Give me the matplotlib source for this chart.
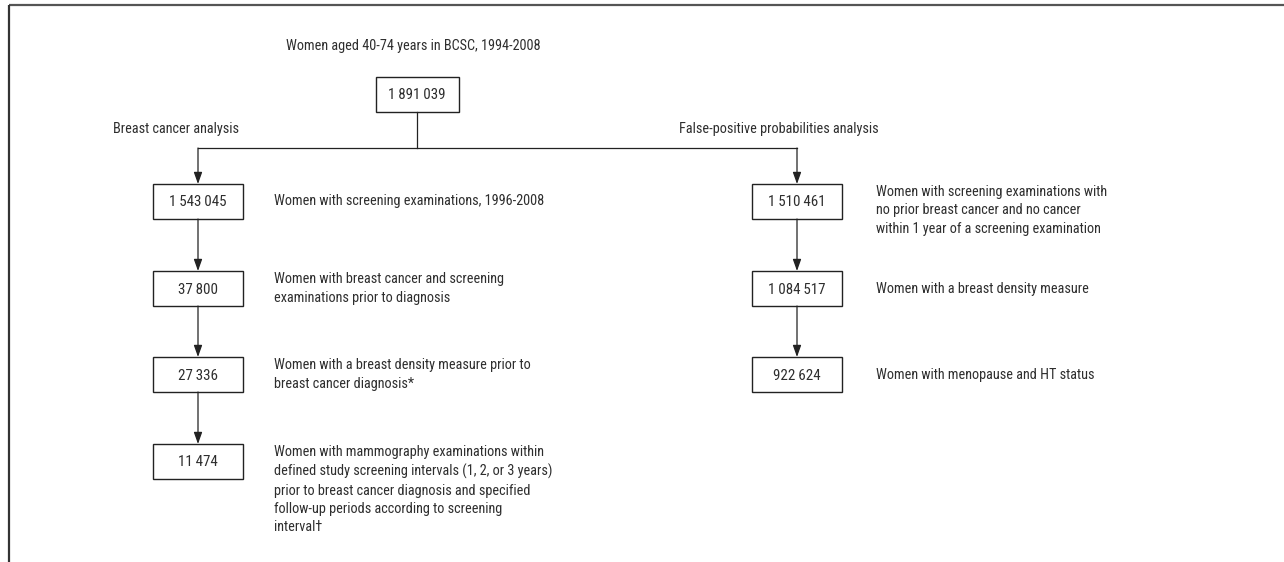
import matplotlib
matplotlib.use("Agg")
import matplotlib.pyplot as plt
from matplotlib.patches import Rectangle

plt.rcParams['font.family'] = ['Roboto Condensed', 'Liberation Sans Narrow', 'DejaVu Sans']

# Flowchart content
top_title = "Women aged 40-74 years in BCSC, 1994-2008"
top_count = 1891039

left_title = "Breast cancer analysis"
left_counts = [1543045, 37800, 27336, 11474]
left_labels = [
    "Women with screening examinations, 1996-2008",
    "Women with breast cancer and screening\nexaminations prior to diagnosis",
    "Women with a breast density measure prior to\nbreast cancer diagnosis*",
    "Women with mammography examinations within\ndefined study screening intervals (1, 2, or 3 years)\n"
    "prior to breast cancer diagnosis and specified\nfollow-up periods according to screening\ninterval\u2020",
]

right_title = "False-positive probabilities analysis"
right_counts = [1510461, 1084517, 922624]
right_labels = [
    "Women with screening examinations with\nno prior breast cancer and no cancer\nwithin 1 year of a screening examination",
    "Women with a breast density measure",
    "Women with menopause and HT status",
]


def fmt(n):
    return f"{n:,}".replace(",", "\u2009")


W, H = 1284, 562
fig = plt.figure(figsize=(W / 100, H / 100), dpi=100)
ax = fig.add_axes([0, 0, 1, 1])
ax.set_xlim(0, W)
ax.set_ylim(H, 0)
ax.axis("off")

line_c = "#222222"
text_c = "#2e2e2e"
fs = 10.3

# frame (top and left edges)
ax.plot([9, W], [5, 5], color="#555555", lw=1.6, solid_capstyle="butt")
ax.plot([9, 9], [5, H], color="#333333", lw=1.6, solid_capstyle="butt")

box_w, box_h = 90, 35


def box(cx, top, n):
    ax.add_patch(Rectangle((cx - box_w / 2, top), box_w, box_h, fill=False,
                           ec=line_c, lw=1.0))
    ax.text(cx, top + box_h / 2 + 1, fmt(n), ha="center", va="center",
            fontsize=fs + 0.5, color=text_c)


def arrow(x, y0, y1):
    ax.annotate("", xy=(x, y1), xytext=(x, y0),
                arrowprops=dict(arrowstyle="-|>,head_length=0.7,head_width=0.25",
                                color=line_c, lw=0.9, shrinkA=0, shrinkB=0))


# top part
ax.text(286, 46, top_title, ha="left", va="center", fontsize=fs, color=text_c)
top_cx = 417
ax.add_patch(Rectangle((376, 77), 83, 35, fill=False, ec=line_c, lw=1.0))
ax.text(top_cx, 95, fmt(top_count), ha="center", va="center", fontsize=fs + 0.5,
        color=text_c)

left_cx, right_cx = 198, 797
split_y = 148
ax.plot([top_cx, top_cx], [112, split_y], color=line_c, lw=0.9)
ax.plot([left_cx, right_cx], [split_y, split_y], color=line_c, lw=0.9)

ax.text(113, 129, left_title, ha="left", va="center", fontsize=fs, color=text_c)
ax.text(679, 129, right_title, ha="left", va="center", fontsize=fs, color=text_c)

row_tops = [184, 271, 357, 444]


def column(cx, text_x, counts, labels):
    prev = split_y
    for i, (n, lab) in enumerate(zip(counts, labels)):
        top = row_tops[i]
        arrow(cx, prev, top)
        box(cx, top, n)
        prev = top + box_h
        if lab.count("\n") >= 2:
            ax.text(text_x, top + 1, lab, ha="left", va="top", fontsize=fs,
                    color=text_c, linespacing=1.4)
        else:
            ax.text(text_x, top + box_h / 2, lab, ha="left", va="center",
                    fontsize=fs, color=text_c, linespacing=1.38)


column(left_cx, 274, left_counts, left_labels)
column(right_cx, 876, right_counts, right_labels)

fig.savefig("out.png", dpi=100, facecolor="white")
